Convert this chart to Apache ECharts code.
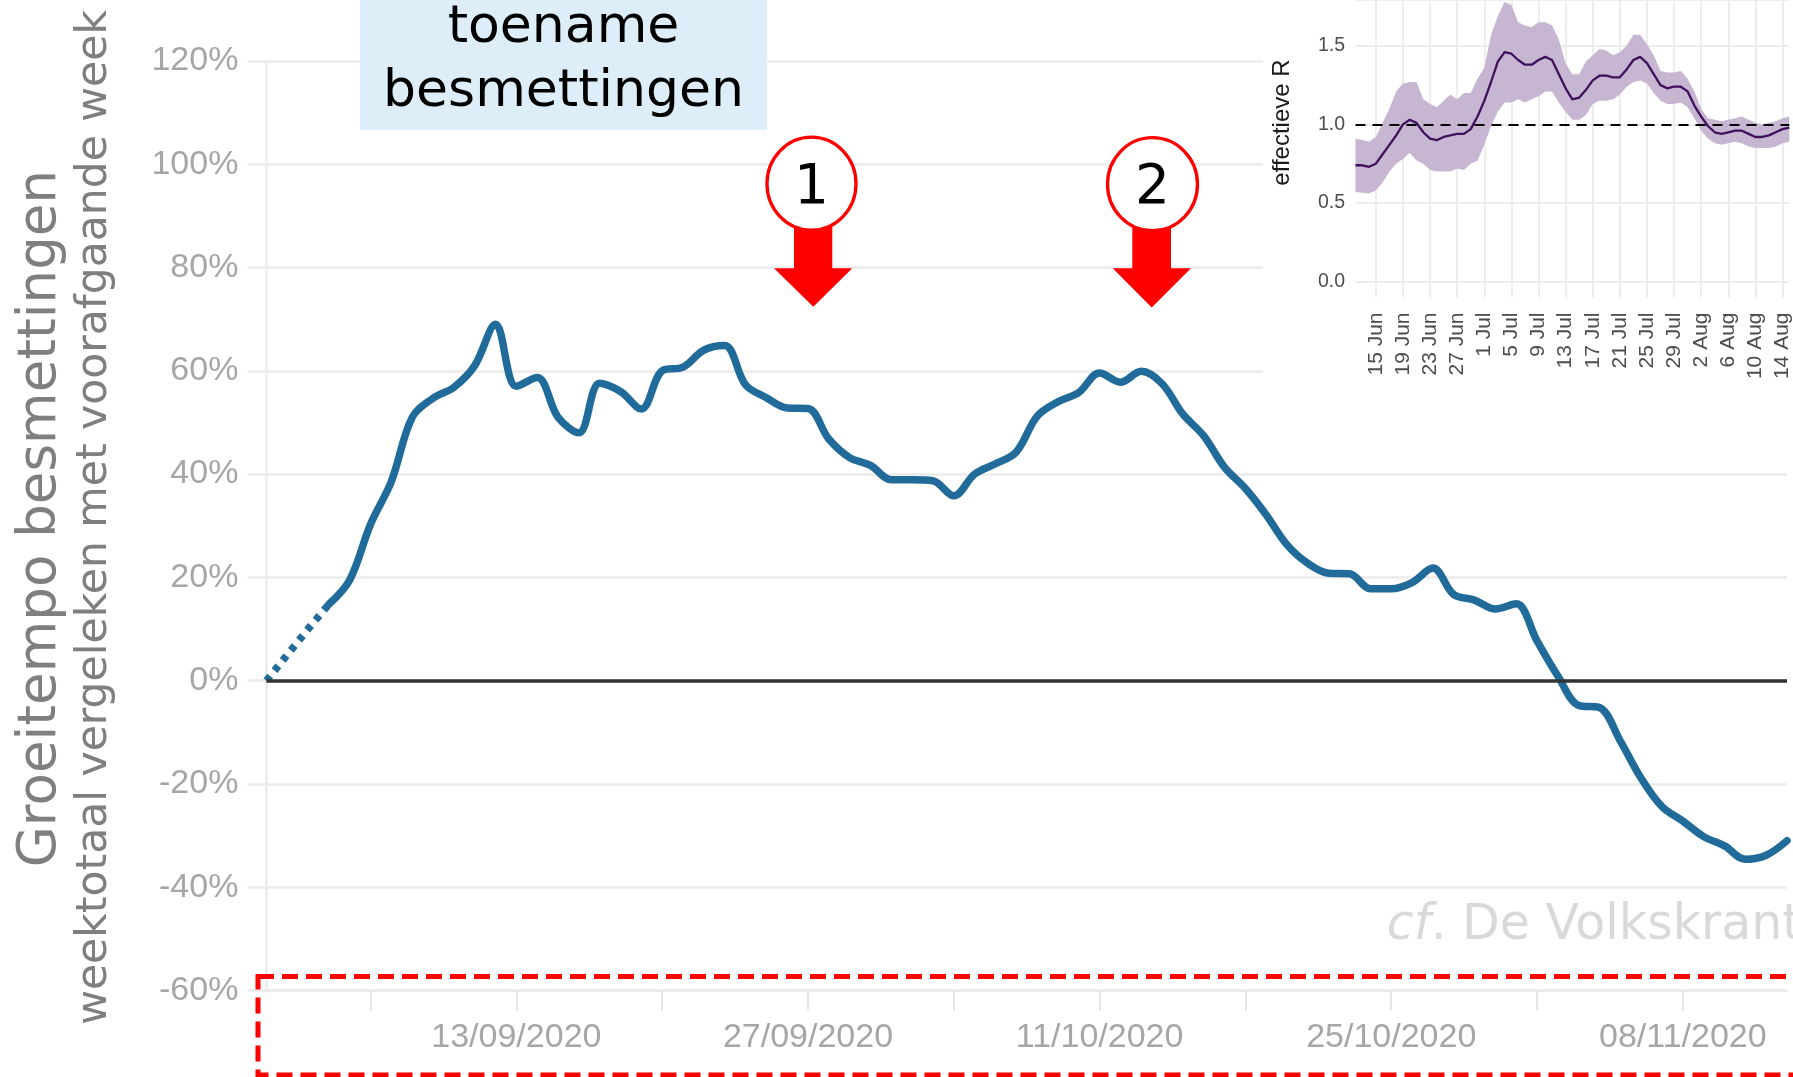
<!DOCTYPE html>
<html><head><meta charset="utf-8">
<script src="https://cdn.jsdelivr.net/npm/echarts@6/dist/echarts.min.js"></script>
<style>html,body{margin:0;padding:0;background:#fff;overflow:hidden}#c{width:1793px;height:1077px;}</style>
</head><body><div id="c"></div>
<script>
// ---------- main chart data ----------
const dates = ['01/09/2020','02/09/2020','03/09/2020','04/09/2020','05/09/2020','06/09/2020','07/09/2020','08/09/2020','09/09/2020','10/09/2020',
'11/09/2020','12/09/2020','13/09/2020','14/09/2020','15/09/2020','16/09/2020','17/09/2020','18/09/2020','19/09/2020','20/09/2020',
'21/09/2020','22/09/2020','23/09/2020','24/09/2020','25/09/2020','26/09/2020','27/09/2020','28/09/2020','29/09/2020','30/09/2020',
'01/10/2020','02/10/2020','03/10/2020','04/10/2020','05/10/2020','06/10/2020','07/10/2020','08/10/2020','09/10/2020','10/10/2020',
'11/10/2020','12/10/2020','13/10/2020','14/10/2020','15/10/2020','16/10/2020','17/10/2020','18/10/2020','19/10/2020','20/10/2020',
'21/10/2020','22/10/2020','23/10/2020','24/10/2020','25/10/2020','26/10/2020','27/10/2020','28/10/2020','29/10/2020','30/10/2020',
'31/10/2020','01/11/2020','02/11/2020','03/11/2020','04/11/2020','05/11/2020','06/11/2020','07/11/2020','08/11/2020','09/11/2020',
'10/11/2020','11/11/2020','12/11/2020','13/11/2020'];
const growth = [0,5,10,14.8,19.5,30.3,38.6,51.0,54.7,56.8,
61.0,69.0,57.0,58.7,51.0,48.0,57.6,56.0,52.6,60.0,
60.7,64.0,64.9,57.3,54.8,52.8,52.7,46.8,43.2,41.7,
38.9,38.9,38.7,35.8,40.0,42.0,44.3,51.2,54.0,55.8,
59.6,57.8,59.9,57.5,51.6,47.4,41.3,37.2,32.1,26.3,
22.7,20.8,20.7,17.8,17.8,19.0,21.8,16.7,15.6,13.9,
14.9,7.7,0.9,-4.8,-5.2,-11.7,-18.9,-24.4,-27.2,-30.2,
-32.0,-34.6,-33.8,-31.0];
const dottedUntil = 3; // index where the dotted start segment ends
const xLabelDates = ['13/09/2020','27/09/2020','11/10/2020','25/10/2020','08/11/2020'];
const xTickDates = ['06/09/2020','13/09/2020','20/09/2020','27/09/2020','04/10/2020','11/10/2020','18/10/2020','25/10/2020','01/11/2020','08/11/2020'];
const yTicks = [-60,-40,-20,0,20,40,60,80,100,120];

// ---------- inset (effective R) data ----------
const rDates = ['12 Jun','13 Jun','14 Jun','15 Jun','16 Jun','17 Jun','18 Jun','19 Jun','20 Jun','21 Jun','22 Jun','23 Jun','24 Jun','25 Jun','26 Jun','27 Jun','28 Jun','29 Jun','30 Jun',
'1 Jul','2 Jul','3 Jul','4 Jul','5 Jul','6 Jul','7 Jul','8 Jul','9 Jul','10 Jul','11 Jul','12 Jul','13 Jul','14 Jul','15 Jul','16 Jul','17 Jul','18 Jul','19 Jul','20 Jul',
'21 Jul','22 Jul','23 Jul','24 Jul','25 Jul','26 Jul','27 Jul','28 Jul','29 Jul','30 Jul','31 Jul',
'1 Aug','2 Aug','3 Aug','4 Aug','5 Aug','6 Aug','7 Aug','8 Aug','9 Aug','10 Aug','11 Aug','12 Aug','13 Aug','14 Aug','15 Aug'];
const rMean = [0.74,0.74,0.73,0.75,0.81,0.87,0.93,1.00,1.03,1.01,0.95,0.91,0.90,0.92,0.93,0.94,0.94,0.97,1.05,
1.15,1.27,1.40,1.46,1.45,1.41,1.38,1.38,1.41,1.43,1.41,1.32,1.23,1.16,1.17,1.22,1.28,1.31,1.31,1.30,
1.30,1.35,1.41,1.43,1.39,1.32,1.25,1.23,1.24,1.24,1.21,
1.12,1.05,0.99,0.95,0.94,0.95,0.96,0.96,0.94,0.92,0.92,0.93,0.95,0.97,0.98];
const rUpper = [0.91,0.90,0.89,0.92,1.01,1.10,1.21,1.26,1.27,1.27,1.16,1.13,1.11,1.15,1.19,1.16,1.20,1.20,1.29,
1.36,1.57,1.69,1.78,1.76,1.65,1.63,1.62,1.65,1.65,1.63,1.54,1.39,1.32,1.32,1.40,1.44,1.48,1.47,1.44,
1.46,1.50,1.57,1.57,1.51,1.44,1.34,1.33,1.33,1.34,1.29,
1.21,1.10,1.04,1.03,1.02,1.03,1.04,1.05,1.03,1.01,1.00,1.01,1.02,1.04,1.05];
const rLower = [0.57,0.565,0.56,0.58,0.63,0.70,0.75,0.78,0.82,0.77,0.75,0.71,0.70,0.70,0.70,0.72,0.71,0.75,0.77,
0.87,0.99,1.08,1.14,1.14,1.16,1.14,1.16,1.18,1.21,1.21,1.14,1.08,1.03,1.03,1.06,1.13,1.15,1.15,1.16,
1.19,1.24,1.27,1.28,1.26,1.20,1.15,1.13,1.13,1.14,1.11,
1.04,0.96,0.91,0.88,0.87,0.88,0.89,0.88,0.86,0.85,0.85,0.85,0.86,0.88,0.89];
const rLabels = ['15 Jun','19 Jun','23 Jun','27 Jun','1 Jul','5 Jul','9 Jul','13 Jul','17 Jul','21 Jul','25 Jul','29 Jul','2 Aug','6 Aug','10 Aug','14 Aug'];

// ---------- build series data ----------
const dottedData = growth.map((v, i) => i <= dottedUntil ? v : null);
const solidData = growth.map((v, i) => i >= dottedUntil ? v : null);
const bandBase = rLower.slice();
const bandWidth = rUpper.map((u, i) => +(u - rLower[i]).toFixed(3));

const NARROW = "'Liberation Sans Narrow','Liberation Sans',sans-serif";
const GRID_C = '#ebebeb';
const LBL_C = '#a6a6a6';
const BLUE = '#206b9a';
const HELV = "'Liberation Sans',Arial,sans-serif";

const chart = echarts.init(document.getElementById('c'), null, {renderer: 'canvas'});
chart.setOption({
  animation: false,
  backgroundColor: '#ffffff',
  grid: [
    {left: 266.4, top: 61, width: 1520.6, height: 929.5, show: false},
    {left: 1355.5, top: -3, width: 437.9, height: 284.5, show: false}
  ],
  xAxis: [
    {
      type: 'category', gridIndex: 0, data: dates, boundaryGap: false,
      axisLine: {show: true, onZero: false, lineStyle: {color: GRID_C, width: 2.5}},
      axisTick: {show: true, length: 20, lineStyle: {color: '#e6e6e6', width: 2},
        interval: (i, v) => xTickDates.includes(v)},
      axisLabel: {show: true, color: LBL_C, fontFamily: NARROW, fontSize: 34, margin: 30,
        interval: (i, v) => xLabelDates.includes(v)},
      splitLine: {show: false}
    },
    {
      type: 'category', gridIndex: 1, data: rDates, boundaryGap: false, z: 3,
      axisLine: {show: false, onZero: false},
      axisTick: {show: true, length: 16, lineStyle: {color: '#ededed', width: 2},
        interval: (i, v) => rLabels.includes(v)},
      axisLabel: {show: true, rotate: 90, color: '#4d4d4d', fontFamily: HELV,
        fontSize: 21, margin: 31, interval: (i, v) => rLabels.includes(v)},
      splitLine: {show: true, lineStyle: {color: '#ededed', width: 2},
        interval: (i, v) => rLabels.includes(v)}
    }
  ],
  yAxis: [
    {
      type: 'value', gridIndex: 0, min: yTicks[0], max: yTicks[yTicks.length - 1], interval: 20,
      axisLine: {show: true, lineStyle: {color: GRID_C, width: 2.5}},
      axisTick: {show: true, length: 19, lineStyle: {color: GRID_C, width: 2.5}},
      axisLabel: {color: LBL_C, fontFamily: NARROW, fontSize: 34, margin: 28, formatter: '{value}%'},
      splitLine: {show: true, lineStyle: {color: GRID_C, width: 2.5}}
    },
    {
      type: 'value', gridIndex: 1, min: 0, max: 1.792, interval: 0.5, z: 3,
      axisLine: {show: false}, axisTick: {show: false},
      axisLabel: {color: '#4d4d4d', fontFamily: HELV, fontSize: 19.5, margin: 10.5,
        showMaxLabel: false, formatter: v => v.toFixed(1)},
      splitLine: {show: true, lineStyle: {color: '#ededed', width: 2}}
    }
  ],
  series: [
    {
      name: 'start', type: 'line', xAxisIndex: 0, yAxisIndex: 0, data: dottedData,
      showSymbol: false, symbol: 'none', z: 4,
      lineStyle: {color: BLUE, width: 7.5, type: [6, 7], cap: 'butt'}
    },
    {
      name: 'groeitempo', type: 'line', xAxisIndex: 0, yAxisIndex: 0, data: solidData,
      showSymbol: false, symbol: 'none', smooth: 0.35, z: 4,
      lineStyle: {color: BLUE, width: 7.5, cap: 'round', join: 'round'}
    },
    {
      name: 'nul', type: 'line', xAxisIndex: 0, yAxisIndex: 0, data: [], z: 5,
      markLine: {silent: true, z: 6, symbol: ['none', 'none'], label: {show: false},
        lineStyle: {color: '#333333', width: 3.5, type: 'solid'}, data: [{yAxis: 0}]}
    },
    {
      name: 'base', type: 'line', xAxisIndex: 1, yAxisIndex: 1, data: bandBase, stack: 'band',
      symbol: 'none', lineStyle: {opacity: 0}, z: 5
    },
    {
      name: 'band', type: 'line', xAxisIndex: 1, yAxisIndex: 1, data: bandWidth, stack: 'band',
      symbol: 'none', lineStyle: {opacity: 0}, areaStyle: {color: '#c6b6d2', opacity: 1}, z: 5
    },
    {
      name: 'R', type: 'line', xAxisIndex: 1, yAxisIndex: 1, data: rMean,
      symbol: 'none', z: 6, lineStyle: {color: '#40105c', width: 2.3},
      markLine: {silent: true, z: 8, symbol: ['none', 'none'], label: {show: false},
        lineStyle: {color: '#000', width: 2, type: [10, 7]}, data: [{yAxis: 1}]}
    }
  ],
  graphic: [
    // white background behind the inset
    {type: 'rect', z: 1, shape: {x: 1263, y: 0, width: 540, height: 378}, style: {fill: '#ffffff'}},
    {type: 'text', z: 10, x: 1282, y: 122.5, rotation: Math.PI / 2,
      style: {text: 'effectieve R', fill: '#1a1a1a', font: "24px 'Liberation Sans'", align: 'center', verticalAlign: 'middle'}},
    // axis titles
    {type: 'text', z: 10, x: 41.5, y: 518.6, rotation: Math.PI / 2,
      style: {text: 'Groeitempo besmettingen', fill: '#7f7f7f', font: "53px 'DejaVu Sans'", align: 'center', verticalAlign: 'middle'}},
    {type: 'text', z: 10, x: 95.3, y: 517.4, rotation: Math.PI / 2,
      style: {text: 'weektotaal vergeleken met voorafgaande week', fill: '#7f7f7f', font: "42.5px 'DejaVu Sans'", align: 'center', verticalAlign: 'middle'}},
    // blue label box
    {type: 'rect', z: 10, shape: {x: 360, y: 0, width: 407, height: 130}, style: {fill: '#ddeef8'}},
    {type: 'text', z: 11, x: 563.5, y: 28.5,
      style: {text: 'toename', fill: '#000', font: "52px 'DejaVu Sans'", align: 'center', verticalAlign: 'middle'}},
    {type: 'text', z: 11, x: 563.5, y: 92,
      style: {text: 'besmettingen', fill: '#000', font: "52px 'DejaVu Sans'", align: 'center', verticalAlign: 'middle'}},
    // arrows
    {type: 'polygon', z: 10, shape: {points: [[794, 225], [832.3, 225], [832.3, 268.3], [852.3, 268.3], [813.3, 306.7], [774, 268.3], [794, 268.3]]}, style: {fill: '#ff0000'}},
    {type: 'polygon', z: 10, shape: {points: [[1132.3, 225], [1171, 225], [1171, 268.3], [1191, 268.3], [1151.7, 307.5], [1112.7, 268.3], [1132.3, 268.3]]}, style: {fill: '#ff0000'}},
    {type: 'ellipse', z: 11, shape: {cx: 811.5, cy: 183.7, rx: 44.5, ry: 46.5}, style: {fill: '#fff', stroke: '#ff0000', lineWidth: 3.3}},
    {type: 'ellipse', z: 11, shape: {cx: 1152.5, cy: 184.2, rx: 45, ry: 46.5}, style: {fill: '#fff', stroke: '#ff0000', lineWidth: 3.3}},
    {type: 'text', z: 12, x: 811.5, y: 189,
      style: {text: '1', fill: '#000', font: "55px 'DejaVu Sans'", align: 'center', verticalAlign: 'middle'}},
    {type: 'text', z: 12, x: 1152.5, y: 189,
      style: {text: '2', fill: '#000', font: "55px 'DejaVu Sans'", align: 'center', verticalAlign: 'middle'}},
    // watermark
    {type: 'text', z: 10, x: 1386.7, y: 926,
      style: {text: '{i|cf}. De Volkskrant', fill: '#d9d9d9', font: "49px 'DejaVu Sans'", align: 'left', verticalAlign: 'middle',
        rich: {i: {fontStyle: 'italic', fill: '#d9d9d9', font: "italic 49px 'DejaVu Sans'"}}}},
    // red dashed frame around the x axis
    {type: 'rect', z: 10, shape: {x: 258, y: 976.5, width: 1600, height: 98.5},
      style: {fill: 'none', stroke: '#ff0000', lineWidth: 5, lineDash: [16, 8]}}
  ]
});
</script></body></html>
